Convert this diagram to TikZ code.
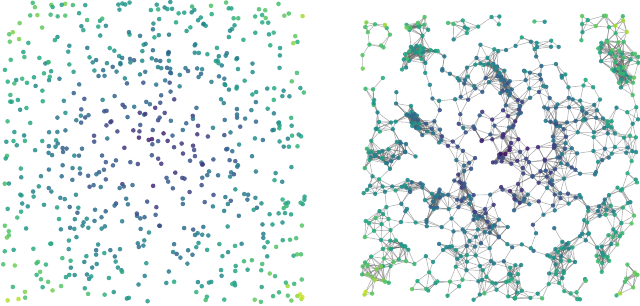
\documentclass[tikz,border=0pt]{standalone}
\usepackage{tikz}

\definecolor{vir0}{RGB}{68,1,84}
\definecolor{vir1}{RGB}{71,44,122}
\definecolor{vir2}{RGB}{59,82,139}
\definecolor{vir3}{RGB}{44,114,142}
\definecolor{vir4}{RGB}{33,145,140}
\definecolor{vir5}{RGB}{39,173,129}
\definecolor{vir6}{RGB}{92,200,99}
\definecolor{vir7}{RGB}{170,220,50}
\definecolor{vir8}{RGB}{253,231,37}
\colorlet{dotcol}{vir4}

\newcount\ii
\newcount\jj
\newcount\ddx
\newcount\ddy
\newcount\nright
\newif\ifinhole
\def\rad{170}
\def\radsq{28900}
\def\holes{462/53/15,412/85/17,583/60/17,570/22/7,533/115/12,605/90/10,585/140/9,440/168/18,487/183/10,420/245/12,400/278/12,593/190/14,600/228/11,535/272/12,573/278/10,367/205/8,366/100/8}

\newcommand\setvir[1]{%
	\pgfmathsetmacro\vt{max(0,min(0.999,#1))*8}%
	\pgfmathtruncatemacro\vk{\vt}%
	\pgfmathtruncatemacro\vkk{\vk+1}%
	\pgfmathtruncatemacro\vpct{(\vt-\vk)*100}%
	\colorlet{dotcol}{vir\vkk!\vpct!vir\vk}%
}
\newcommand\checkholes{%
	\global\inholefalse
	\foreach \hx/\hy/\hr in \holes{%
		\pgfmathsetmacro\hd{veclen(\px-\hx,\py-\hy)}%
		\ifdim\hd pt<\hr pt\global\inholetrue\fi
	}%
}
\newcommand\addright{%
	\checkholes
	\ifinhole\else
		\global\advance\nright by 1
		\edef\nm{r\the\nright}%
		\coordinate (\nm) at (\px,\py);
		\pgfmathtruncatemacro\pxi{\px*10}%
		\pgfmathtruncatemacro\pyi{\py*10}%
		\expandafter\xdef\csname rxi\the\nright\endcsname{\pxi}%
		\expandafter\xdef\csname ryi\the\nright\endcsname{\pyi}%
	\fi
}

\begin{document}
\begin{tikzpicture}[x=0.75pt,y=-0.75pt,
		scatdot/.style={fill=dotcol,fill opacity=0.85},
		graphdot/.style={fill=dotcol,fill opacity=0.9},
		link/.style={draw=black!65,draw opacity=0.45,line width=0.45pt}]
	\useasboundingbox (0,0) rectangle (640,306);
	\pgfmathsetseed{11}
	\foreach \k in {1,...,650}{
		\pgfmathsetmacro\px{3+302*rnd}
		\pgfmathsetmacro\py{2+300*rnd}
		\pgfmathsetmacro\dd{veclen(\px-154,\py-152)/151}
		\setvir{0.15+0.33*\dd+0.12*\dd*\dd+0.24*(rnd-0.5)}
		\fill[scatdot] (\px,\py) circle[radius=2.3];
	}
	\foreach \k in {1,...,720}{
		\pgfmathsetmacro\px{362+278*rnd}
		\pgfmathsetmacro\py{15+285*rnd}
		\addright
	}
	\foreach \c in {1,...,20}{
		\pgfmathsetmacro\cx{370+262*rnd}
		\pgfmathsetmacro\cy{22+272*rnd}
		\foreach \k in {1,...,6}{
			\pgfmathsetmacro\px{max(362,min(640,\cx+10*(rnd+rnd-1)))}
			\pgfmathsetmacro\py{max(15,min(300,\cy+10*(rnd+rnd-1)))}
			\addright
		}
	}
	\ii=0
	\loop
		\advance\ii by 1
		\jj=\ii
		{\loop
			\advance\jj by 1
			\ifnum\jj>\nright\else
				\ddx=\numexpr\csname rxi\the\ii\endcsname-\csname rxi\the\jj\endcsname\relax
				\ifnum\ddx<0 \ddx=-\ddx\fi
				\ifnum\ddx<\rad\relax
					\ddy=\numexpr\csname ryi\the\ii\endcsname-\csname ryi\the\jj\endcsname\relax
					\ifnum\ddy<0 \ddy=-\ddy\fi
					\ifnum\ddy<\rad\relax
						\ifnum\numexpr\ddx*\ddx+\ddy*\ddy\relax<\radsq\relax
							\edef\na{r\the\ii}\edef\nb{r\the\jj}%
							\draw[link] (\na) -- (\nb);
						\fi
					\fi
				\fi
			\fi
		\ifnum\jj<\nright\repeat}
	\ifnum\ii<\nright\repeat
	\edef\nn{\the\nright}
	\foreach \k in {1,...,\nn}{
		\edef\qx{\csname rxi\k\endcsname}\edef\qy{\csname ryi\k\endcsname}
		\pgfmathsetmacro\dd{veclen(\qx/10-501,\qy/10-158)/140}
		\setvir{0.15+0.33*\dd+0.12*\dd*\dd+0.24*(rnd-0.5)}
		\fill[graphdot] (r\k) circle[radius=2.2];
	}
\end{tikzpicture}
\end{document}
